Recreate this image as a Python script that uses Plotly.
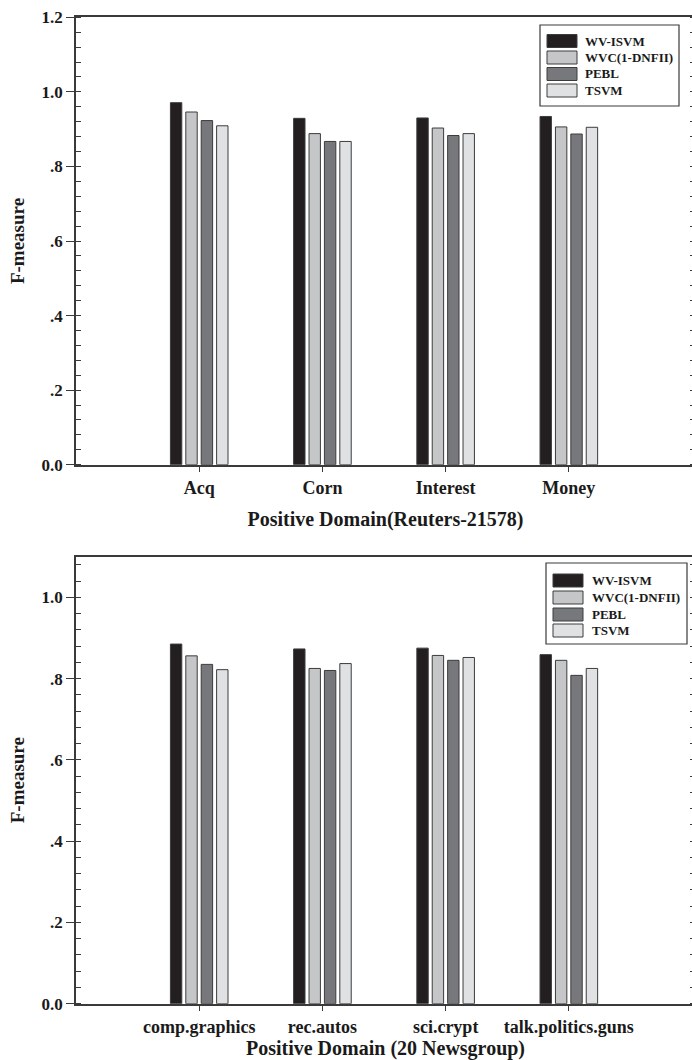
import plotly.graph_objects as go

# ---------------- data ----------------
series_names = ["WV-ISVM", "WVC(1-DNFII)", "PEBL", "TSVM"]
series_colors = ["#231f20", "#c5c6c8", "#77787b", "#e0e1e3"]

reuters_categories = ["Acq", "Corn", "Interest", "Money"]
reuters_wv_isvm = [0.971, 0.929, 0.930, 0.934]
reuters_wvc = [0.946, 0.888, 0.903, 0.906]
reuters_pebl = [0.923, 0.867, 0.883, 0.887]
reuters_tsvm = [0.909, 0.867, 0.888, 0.905]

news_categories = ["comp.graphics", "rec.autos", "sci.crypt", "talk.politics.guns"]
news_wv_isvm = [0.885, 0.873, 0.875, 0.859]
news_wvc = [0.856, 0.825, 0.857, 0.845]
news_pebl = [0.835, 0.820, 0.845, 0.808]
news_tsvm = [0.822, 0.837, 0.852, 0.825]

top_ticks = [0.0, 0.2, 0.4, 0.6, 0.8, 1.0, 1.2]
top_ticktext = ["0.0", ".2", ".4", ".6", ".8", "1.0", "1.2"]
bot_ticks = [0.0, 0.2, 0.4, 0.6, 0.8, 1.0]
bot_ticktext = ["0.0", ".2", ".4", ".6", ".8", "1.0"]

x_title_top = "Positive Domain(Reuters-21578)"
x_title_bot = "Positive Domain (20 Newsgroup)"
y_title = "F-measure"

# ---------------- layout constants ----------------
W, H = 695, 1060          # slightly wider than the window: right frame falls just off-screen
ML = 76
FONT = "Liberation Serif"
AXC = "#3a3a3a"


def py(p):
    return 1 - p / H


def px(p):
    return (p - ML) / (W - ML)


fig = go.Figure()

top_vals = [reuters_wv_isvm, reuters_wvc, reuters_pebl, reuters_tsvm]
bot_vals = [news_wv_isvm, news_wvc, news_pebl, news_tsvm]

for name, col, vals in zip(series_names, series_colors, top_vals):
    fig.add_trace(go.Bar(
        x=list(range(len(reuters_categories))), y=vals, name=name,
        marker=dict(color=col, line=dict(color="#3c3c3c", width=1)),
        xaxis="x", yaxis="y", showlegend=False, offsetgroup=name))

for name, col, vals in zip(series_names, series_colors, bot_vals):
    fig.add_trace(go.Bar(
        x=list(range(len(news_categories))), y=vals, name=name,
        marker=dict(color=col, line=dict(color="#3c3c3c", width=1)),
        xaxis="x2", yaxis="y2", showlegend=False, offsetgroup=name))

common_x = dict(
    range=[-1, 4.024], showline=True, linecolor=AXC, linewidth=1.5, mirror=True,
    ticks="outside", ticklen=6, tickwidth=1.2, tickcolor=AXC,
    showgrid=False, zeroline=False, automargin=False,
    tickfont=dict(family=FONT, size=18, color="#1a1a1a", weight="bold"),
    tickvals=[0, 1, 2, 3],
)
common_y = dict(
    showline=True, linecolor=AXC, linewidth=1.5, mirror="ticks",
    ticks="outside", ticklen=8, tickwidth=1.2, tickcolor=AXC,
    minor=dict(ticks="inside", dtick=0.04, ticklen=5, tickwidth=1.2, tickcolor=AXC),
    showgrid=False, zeroline=False, automargin=False,
    tickfont=dict(family=FONT, size=17, color="#1a1a1a", weight="bold"),
)

top_dom = [py(464.7), py(17.3)]
bot_dom = [py(1003.7), py(556.7)]

fig.update_layout(
    width=W, height=H,
    margin=dict(l=ML, r=0, t=0, b=0),
    paper_bgcolor="white", plot_bgcolor="white",
    barmode="group", bargap=0.5, bargroupgap=0.26,
    showlegend=False,
    xaxis=dict(common_x, anchor="y", domain=[0, 1], ticktext=reuters_categories,
               title=dict(text=x_title_top, standoff=15,
                          font=dict(family=FONT, size=20, color="#1a1a1a", weight="bold"))),
    yaxis=dict(common_y, anchor="x", domain=top_dom, range=[0, 1.2],
               tickvals=top_ticks, ticktext=top_ticktext,
               title=dict(text=y_title, standoff=12,
                          font=dict(family=FONT, size=19, color="#1a1a1a", weight="bold"))),
    xaxis2=dict(common_x, anchor="y2", domain=[0, 1], ticktext=news_categories,
                title=dict(text=x_title_bot, standoff=15,
                           font=dict(family=FONT, size=20, color="#1a1a1a", weight="bold"))),
    yaxis2=dict(common_y, anchor="x2", domain=bot_dom, range=[0, 1.1],
                tickvals=bot_ticks, ticktext=bot_ticktext,
                title=dict(text=y_title, standoff=12,
                           font=dict(family=FONT, size=19, color="#1a1a1a", weight="bold"))),
)

# ---------------- custom legends ----------------
shapes = []
annotations = []


def add_legend(box, sw_x0, sw_x1, text_x, rows):
    bx0, by0, bx1, by1 = box
    shapes.append(dict(type="rect", xref="paper", yref="paper",
                       x0=px(bx0), x1=px(bx1), y0=py(by1), y1=py(by0),
                       line=dict(color=AXC, width=1.2), fillcolor="white", layer="above"))
    for (r0, r1), name, col in zip(rows, series_names, series_colors):
        shapes.append(dict(type="rect", xref="paper", yref="paper",
                           x0=px(sw_x0), x1=px(sw_x1), y0=py(r1), y1=py(r0),
                           line=dict(color="#3c3c3c", width=1), fillcolor=col, layer="above"))
        annotations.append(dict(xref="paper", yref="paper", x=px(text_x), y=py((r0 + r1) / 2),
                                xanchor="left", yanchor="middle", showarrow=False, text=name,
                                font=dict(family=FONT, size=13, color="#1a1a1a", weight="bold")))


add_legend((540, 25, 679, 106), 547, 577, 583,
           [(34.5, 47.5), (51, 64), (67.5, 80.5), (84, 97)])
add_legend((546, 563, 687, 644), 553, 583, 590,
           [(574, 587), (591, 604), (608, 621), (624, 637)])

fig.update_layout(shapes=shapes, annotations=annotations)

fig.write_html(
    "out.html",
    config={"displayModeBar": False},
    post_script="document.body.style.margin='0';document.body.style.padding='0';"
                "document.body.style.overflow='hidden';",
)
